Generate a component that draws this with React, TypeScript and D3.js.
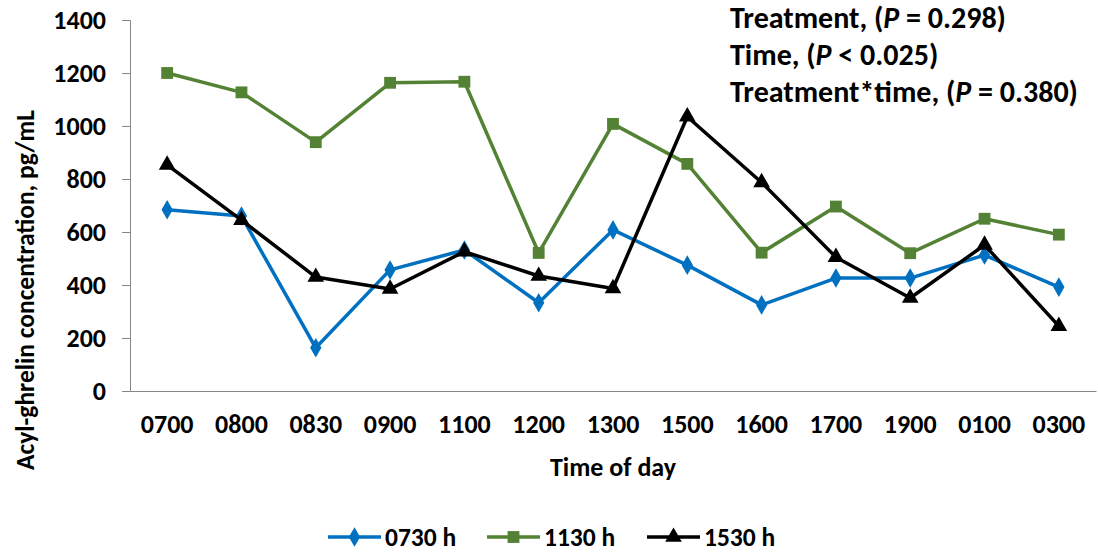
import React, { useEffect, useRef } from "react";
import * as d3 from "d3";

const times = ["0700", "0800", "0830", "0900", "1100", "1200", "1300", "1500", "1600", "1700", "1900", "0100", "0300"];
const t0730 = [684, 660, 163, 457, 532, 333, 608, 475, 325, 426, 426, 513, 392];
const t1130 = [1200, 1127, 939, 1163, 1167, 521, 1008, 857, 522, 696, 520, 650, 590];
const t1530 = [853, 645, 430, 385, 526, 434, 387, 1035, 787, 505, 351, 551, 245];
const yTicks = [0, 200, 400, 600, 800, 1000, 1200, 1400];
const statLines = [
  ["Treatment, (", "P", " = 0.298)"],
  ["Time, (", "P", " < 0.025)"],
  ["Treatment*time, (", "P", " = 0.380)"],
];

const FONT = "Carlito, Calibri, Lato, 'Liberation Sans', sans-serif";

const series = [
  { name: "0730 h", values: t0730, color: "#0070C0", symbol: d3.symbolDiamond, size: 110 },
  { name: "1130 h", values: t1130, color: "#548235", symbol: d3.symbolSquare, size: 140 },
  { name: "1530 h", values: t1530, color: "#000000", symbol: d3.symbolTriangle, size: 120 },
];

export default function App() {
  const ref = useRef<SVGSVGElement>(null);

  useEffect(() => {
    const svg = d3.select(ref.current);
    svg.selectAll("*").remove();

    const left = 130, right = 1096, top = 20, bottom = 391;

    const x = d3.scaleBand().domain(times).range([left, right]);
    const y = d3.scaleLinear().domain([0, 1400]).range([bottom, top]);

    // y axis
    const yAxis = svg.append("g").attr("transform", `translate(${left},0)`)
      .call(d3.axisLeft(y).tickValues(yTicks).tickSize(8).tickPadding(16).tickFormat(d3.format("d")));
    yAxis.select(".domain").attr("stroke", "#868686");
    yAxis.selectAll(".tick line").attr("stroke", "#868686");
    yAxis.selectAll("text").attr("font-family", FONT).attr("font-size", 26)
      .attr("font-weight", "bold").attr("fill", "#000");

    // x axis
    const xAxis = svg.append("g").attr("transform", `translate(0,${bottom})`)
      .call(d3.axisBottom(x).tickSize(0).tickPadding(24));
    xAxis.select(".domain").attr("stroke", "#868686");
    xAxis.selectAll("text").attr("font-family", FONT).attr("font-size", 26)
      .attr("font-weight", "bold").attr("fill", "#000");

    const cx = (i: number) => x(times[i])! + x.bandwidth() / 2;

    series.forEach((s) => {
      const line = d3.line<number>().x((_, i) => cx(i)).y((d) => y(d));
      svg.append("path").datum(s.values).attr("d", line)
        .attr("fill", "none").attr("stroke", s.color).attr("stroke-width", 3.5)
        .attr("stroke-linejoin", "round");
      svg.append("g").selectAll("path").data(s.values).join("path")
        .attr("d", d3.symbol().type(s.symbol).size(s.size)())
        .attr("transform", (d, i) => `translate(${cx(i)},${y(d)})`)
        .attr("fill", s.color);
    });

    // axis titles
    svg.append("text").attr("x", 613).attr("y", 476)
      .attr("text-anchor", "middle").attr("font-family", FONT).attr("font-size", 26)
      .attr("font-weight", "bold").text("Time of day");
    svg.append("text").attr("transform", `translate(34,290) rotate(-90)`)
      .attr("text-anchor", "middle").attr("font-family", FONT).attr("font-size", 25.5)
      .attr("font-weight", "bold").text("Acyl-ghrelin concentration, pg/mL");

    // stats annotation
    statLines.forEach((parts, i) => {
      const t = svg.append("text").attr("x", 730).attr("y", 28 + i * 37)
        .attr("font-family", FONT).attr("font-size", 30).attr("font-weight", "bold");
      t.append("tspan").text(parts[0]);
      t.append("tspan").attr("font-style", "italic").text(parts[1]);
      t.append("tspan").text(parts[2]);
    });

    // legend
    const legendX = [328, 487, 647];
    series.forEach((s, i) => {
      const g = svg.append("g").attr("transform", `translate(${legendX[i]},537)`);
      g.append("line").attr("x1", 0).attr("x2", 53).attr("stroke", s.color).attr("stroke-width", 3.5);
      g.append("path").attr("d", d3.symbol().type(s.symbol).size(s.size)())
        .attr("transform", "translate(26.5,0)").attr("fill", s.color);
      g.append("text").attr("x", 57).attr("y", 9).attr("font-family", FONT)
        .attr("font-size", 25.5).attr("font-weight", "bold").text(s.name);
    });
  }, []);

  return (
    <svg ref={ref} width={1098} height={552}
      style={{ position: "absolute", left: 0, top: 0, background: "#fff" }} />
  );
}
